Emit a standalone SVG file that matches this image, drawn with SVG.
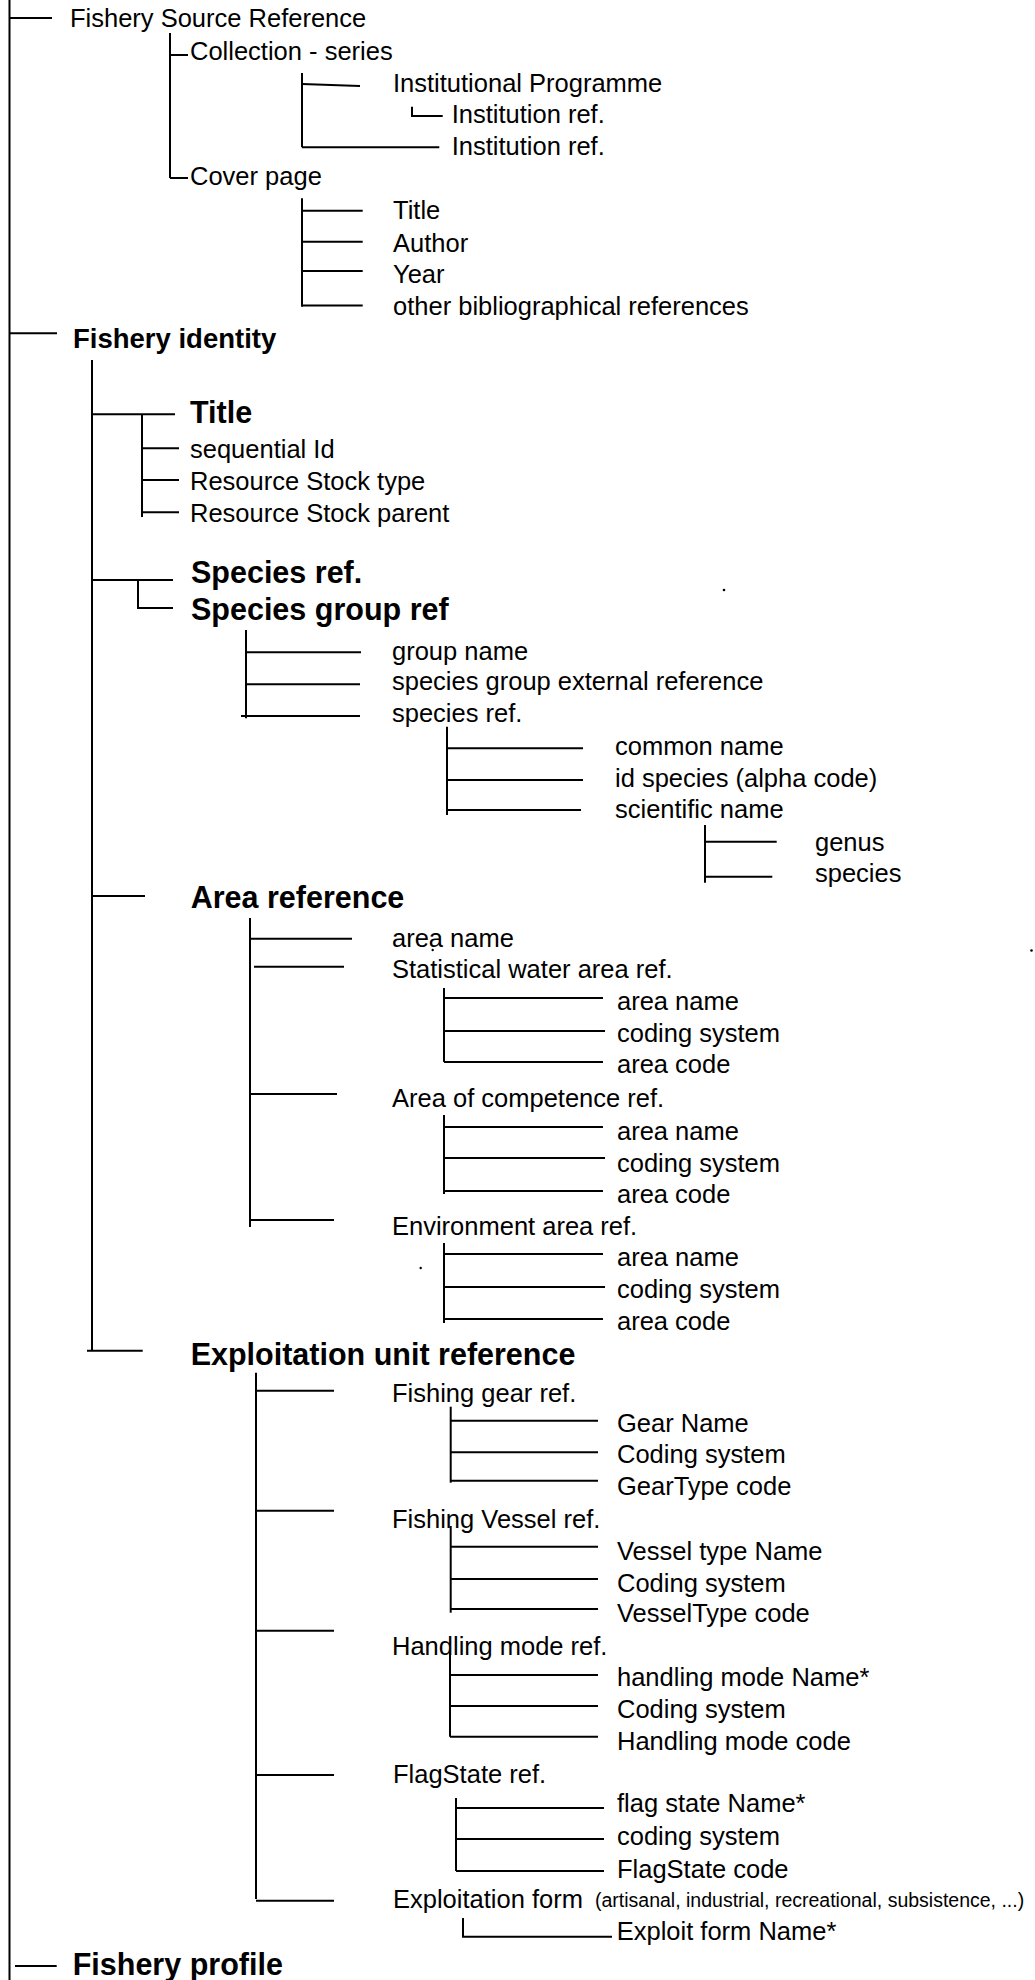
<svg xmlns="http://www.w3.org/2000/svg" width="1035" height="1980" viewBox="0 0 1035 1980">
<style>
text{font-family:"Liberation Sans",Arial,sans-serif;fill:#000}
.r{font-size:25.5px}
.b{font-size:30.5px;font-weight:bold}
.t{font-size:27.5px;font-weight:bold}
.s{font-size:19.5px}
.c line,.c path{stroke:#000;stroke-width:2;fill:none}
</style>
<rect width="1035" height="1980" fill="#fff"/>
<g class="c" id="connectors">
<line x1="9.5" y1="0" x2="9.5" y2="1980"/>
<line x1="10" y1="18" x2="52" y2="18"/>
<line x1="170" y1="33" x2="170" y2="178"/>
<line x1="170" y1="55" x2="188" y2="55"/>
<line x1="170" y1="178" x2="188" y2="178"/>
<line x1="302" y1="73" x2="302" y2="147.3"/>
<line x1="302" y1="84" x2="360" y2="86"/>
<path d="M412 106.7V116H442.7"/>
<line x1="302" y1="147.3" x2="439.3" y2="147.3"/>
<line x1="302" y1="198.3" x2="302" y2="306.7"/>
<line x1="302" y1="210.7" x2="362.7" y2="210.7"/>
<line x1="302" y1="241.7" x2="362.7" y2="241.7"/>
<line x1="302" y1="271" x2="362.7" y2="271"/>
<line x1="302" y1="305.5" x2="362.7" y2="305.5"/>
<line x1="10" y1="333.3" x2="57" y2="333.3"/>
<line x1="92" y1="360" x2="92" y2="1350.7"/>
<line x1="92" y1="414.3" x2="175" y2="414.3"/>
<line x1="142" y1="414.3" x2="142" y2="517"/>
<line x1="142" y1="448.3" x2="179" y2="448.3"/>
<line x1="142" y1="480" x2="179" y2="480"/>
<line x1="142" y1="512.3" x2="179" y2="512.3"/>
<line x1="92" y1="580" x2="173" y2="580"/>
<path d="M138 580V608H173"/>
<line x1="246" y1="630" x2="246" y2="718.3"/>
<line x1="246" y1="652.3" x2="361" y2="652.3"/>
<line x1="246" y1="684.3" x2="360" y2="684.3"/>
<line x1="241" y1="716" x2="360" y2="716"/>
<line x1="447" y1="726.7" x2="447" y2="815"/>
<line x1="447" y1="748.3" x2="583" y2="748.3"/>
<line x1="447" y1="780" x2="583" y2="780"/>
<line x1="447" y1="810" x2="581" y2="810"/>
<line x1="705" y1="825" x2="705" y2="882.7"/>
<line x1="705" y1="841.7" x2="776.7" y2="841.7"/>
<line x1="705" y1="876.7" x2="772.3" y2="876.7"/>
<line x1="92" y1="896" x2="145" y2="896"/>
<line x1="250" y1="918" x2="250" y2="1227"/>
<line x1="250" y1="938.7" x2="352" y2="938.7"/>
<line x1="254" y1="966.7" x2="344" y2="966.7"/>
<line x1="250" y1="1094" x2="337" y2="1094"/>
<line x1="250" y1="1220" x2="334" y2="1220"/>
<line x1="444" y1="988" x2="444" y2="1062"/>
<line x1="444" y1="998" x2="603" y2="998"/>
<line x1="444" y1="1031" x2="605" y2="1031"/>
<line x1="444" y1="1062" x2="603" y2="1062"/>
<line x1="444" y1="1115" x2="444" y2="1194"/>
<line x1="444" y1="1127" x2="603" y2="1127"/>
<line x1="444" y1="1158" x2="605" y2="1158"/>
<line x1="444" y1="1191" x2="603" y2="1191"/>
<line x1="444" y1="1243" x2="444" y2="1323"/>
<line x1="444" y1="1254" x2="603" y2="1254"/>
<line x1="444" y1="1287" x2="605" y2="1287"/>
<line x1="444" y1="1319" x2="603" y2="1319"/>
<line x1="87" y1="1350.7" x2="142.7" y2="1350.7"/>
<line x1="256" y1="1372.7" x2="256" y2="1899"/>
<line x1="256" y1="1390.7" x2="334" y2="1390.7"/>
<line x1="256" y1="1510.7" x2="334" y2="1510.7"/>
<line x1="256" y1="1630.7" x2="334" y2="1630.7"/>
<line x1="256" y1="1775" x2="334" y2="1775"/>
<line x1="256" y1="1900.7" x2="334" y2="1900.7"/>
<line x1="450.7" y1="1406.7" x2="450.7" y2="1482.7"/>
<line x1="450.7" y1="1420.7" x2="598" y2="1420.7"/>
<line x1="450.7" y1="1452.3" x2="598" y2="1452.3"/>
<line x1="450.7" y1="1480.7" x2="598" y2="1480.7"/>
<line x1="450.7" y1="1526" x2="450.7" y2="1612.7"/>
<line x1="450.7" y1="1546.7" x2="598" y2="1546.7"/>
<line x1="450.7" y1="1579" x2="598" y2="1579"/>
<line x1="450.7" y1="1609" x2="598" y2="1609"/>
<line x1="450" y1="1650" x2="450" y2="1736.7"/>
<line x1="450" y1="1675" x2="598" y2="1675"/>
<line x1="450" y1="1706" x2="598" y2="1706"/>
<line x1="450" y1="1736.7" x2="598" y2="1736.7"/>
<line x1="456" y1="1798" x2="456" y2="1871"/>
<line x1="456" y1="1808" x2="604" y2="1808"/>
<line x1="456" y1="1839" x2="604" y2="1839"/>
<line x1="456" y1="1871" x2="604" y2="1871"/>
<path d="M463 1918V1936.7H612"/>
<line x1="15" y1="1966" x2="56.7" y2="1966"/>
</g>
<g id="fishery-source-reference"><text class="r" x="70" y="27">Fishery Source Reference</text></g>
<g id="collection-series"><text class="r" x="190" y="60">Collection - series</text></g>
<g id="institutional-programme"><text class="r" x="393" y="92.3">Institutional Programme</text></g>
<g id="institution-ref-1"><text class="r" x="451.7" y="123.3">Institution ref.</text></g>
<g id="institution-ref-2"><text class="r" x="451.7" y="155">Institution ref.</text></g>
<g id="cover-page"><text class="r" x="190" y="185">Cover page</text></g>
<g id="cp-title"><text class="r" x="393" y="219.3">Title</text></g>
<g id="cp-author"><text class="r" x="393" y="251.7">Author</text></g>
<g id="cp-year"><text class="r" x="393" y="282.7">Year</text></g>
<g id="cp-other"><text class="r" x="393" y="315">other bibliographical references</text></g>
<g id="fishery-identity"><text class="t" x="73" y="348.3">Fishery identity</text></g>
<g id="title"><text class="b" x="190" y="423">Title</text></g>
<g id="sequential-id"><text class="r" x="190" y="458.3">sequential Id</text></g>
<g id="stock-type"><text class="r" x="190" y="490">Resource Stock type</text></g>
<g id="stock-parent"><text class="r" x="190" y="521.7">Resource Stock parent</text></g>
<g id="species-ref"><text class="b" x="191" y="583.3">Species ref.</text></g>
<g id="species-group-ref"><text class="b" x="191" y="620">Species group ref</text></g>
<g id="group-name"><text class="r" x="392" y="660">group name</text></g>
<g id="sg-external"><text class="r" x="392" y="690">species group external reference</text></g>
<g id="sg-species-ref"><text class="r" x="392" y="721.7">species ref.</text></g>
<g id="common-name"><text class="r" x="615" y="755">common name</text></g>
<g id="id-species"><text class="r" x="615" y="786.7">id species (alpha code)</text></g>
<g id="scientific-name"><text class="r" x="615" y="818.3">scientific name</text></g>
<g id="genus"><text class="r" x="815" y="851">genus</text></g>
<g id="species"><text class="r" x="815" y="882">species</text></g>
<g id="dots"><circle cx="724" cy="590" r="1.3"/><circle cx="1031.5" cy="950.5" r="1.3"/><circle cx="432.7" cy="950" r="1.2"/><circle cx="420.7" cy="1268" r="1.2"/></g>
<g id="area-reference"><text class="b" x="190.7" y="908">Area reference</text></g>
<g id="area-name"><text class="r" x="392" y="947">area name</text></g>
<g id="statistical"><text class="r" x="392" y="978">Statistical water area ref.</text></g>
<g id="st-area-name"><text class="r" x="617" y="1010">area name</text></g>
<g id="st-coding"><text class="r" x="617" y="1042">coding system</text></g>
<g id="st-area-code"><text class="r" x="617" y="1073">area code</text></g>
<g id="competence"><text class="r" x="392" y="1107">Area of competence ref.</text></g>
<g id="co-area-name"><text class="r" x="617" y="1139.5">area name</text></g>
<g id="co-coding"><text class="r" x="617" y="1171.5">coding system</text></g>
<g id="co-area-code"><text class="r" x="617" y="1202.7">area code</text></g>
<g id="environment"><text class="r" x="392" y="1235">Environment area ref.</text></g>
<g id="en-area-name"><text class="r" x="617" y="1266">area name</text></g>
<g id="en-coding"><text class="r" x="617" y="1298.3">coding system</text></g>
<g id="en-area-code"><text class="r" x="617" y="1330">area code</text></g>
<g id="exploitation-unit"><text class="b" x="190.7" y="1365">Exploitation unit reference</text></g>
<g id="gear-ref"><text class="r" x="392" y="1401.7">Fishing gear ref.</text></g>
<g id="gear-name"><text class="r" x="617" y="1431.7">Gear Name</text></g>
<g id="gear-coding"><text class="r" x="617" y="1463">Coding system</text></g>
<g id="gear-code"><text class="r" x="617" y="1495">GearType code</text></g>
<g id="vessel-ref"><text class="r" x="392" y="1528">Fishing Vessel ref.</text></g>
<g id="vessel-name"><text class="r" x="617" y="1560">Vessel type Name</text></g>
<g id="vessel-coding"><text class="r" x="617" y="1591.7">Coding system</text></g>
<g id="vessel-code"><text class="r" x="617" y="1621.7">VesselType code</text></g>
<g id="handling-ref"><text class="r" x="392" y="1655">Handling mode ref.</text></g>
<g id="handling-name"><text class="r" x="617" y="1686">handling mode Name*</text></g>
<g id="handling-coding"><text class="r" x="617" y="1718">Coding system</text></g>
<g id="handling-code"><text class="r" x="617" y="1750">Handling mode code</text></g>
<g id="flagstate-ref"><text class="r" x="393" y="1783">FlagState ref.</text></g>
<g id="flag-name"><text class="r" x="617" y="1811.7">flag state Name*</text></g>
<g id="flag-coding"><text class="r" x="617" y="1845">coding system</text></g>
<g id="flag-code"><text class="r" x="617" y="1878">FlagState code</text></g>
<g id="exploitation-form"><text class="r" x="393" y="1908">Exploitation form</text><text class="s" x="595" y="1906.7">(artisanal, industrial, recreational, subsistence, ...)</text></g>
<g id="exploit-form-name"><text class="r" x="616.7" y="1940">Exploit form Name*</text></g>
<g id="fishery-profile"><text class="b" x="72.7" y="1975">Fishery profile</text></g>
</svg>
